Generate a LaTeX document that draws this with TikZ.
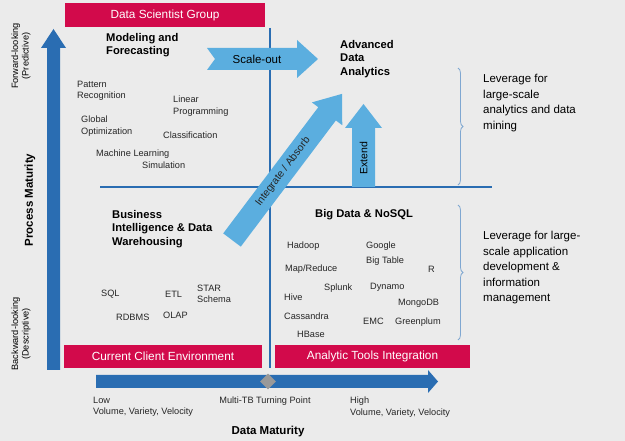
\documentclass[tikz,border=0pt]{standalone}
\usepackage{fontspec}
\setmainfont{Liberation Sans}
\usetikzlibrary{decorations.pathreplacing}
\definecolor{bg}{HTML}{EBEBEB}
\definecolor{rd}{HTML}{D20A4B}
\definecolor{db}{HTML}{2A6DB2}
\definecolor{lb}{HTML}{5BAEDF}
\begin{document}
\begin{tikzpicture}[x=1pt,y=-1pt,
 redbox/.style={fill=rd,text=white,font=\fontsize{11.8}{12}\selectfont,inner sep=0},
 itm/.style={font=\fontsize{9.2}{11.3}\selectfont,align=left,anchor=north west,inner sep=0,text=black!85},
 hdr/.style={font=\bfseries\fontsize{11.2}{13.5}\selectfont,align=left,anchor=north west,inner sep=0},
 side/.style={font=\fontsize{9.2}{10.5}\selectfont,align=center,rotate=90,inner sep=0},
 rtxt/.style={font=\fontsize{11.5}{15.5}\selectfont,align=left,anchor=north west,inner sep=0}]
\fill[bg] (0,0) rectangle (625,441);
\useasboundingbox (0,0) rectangle (625,441);
% grid lines
\draw[db,line width=1.2] (270,28) -- (270,368);
\draw[db,line width=1.2] (100,187) -- (492,187);
% red boxes
\node[redbox,minimum width=200,minimum height=24] (dsg) at (165,15) {Data Scientist Group};
\node[redbox,minimum width=198,minimum height=23] (cce) at (163,356.5) {Current Client Environment};
\node[redbox,minimum width=195,minimum height=23] (ati) at (372.5,356.5) {Analytic Tools Integration};
% vertical arrow
\fill[db] (47,370) -- (47,48) -- (41,48) -- (53.5,29) -- (66,48) -- (60,48) -- (60,370) -- cycle;
% bottom arrow
\fill[db] (96,375) -- (428,375) -- (428,370) -- (438,381.5) -- (428,393) -- (428,388) -- (96,388) -- cycle;
\node[fill=gray!80,minimum size=11,inner sep=0,rotate=45] (dia) at (268,381.5) {};
% side labels
\node[side] (fwd) at (21,56) {Forward-looking\\(Predictive)};
\node[side,font=\bfseries\fontsize{11.5}{12}\selectfont] (pm) at (30,200) {Process Maturity};
\node[side] (bwd) at (21,334) {Backward-looking\\(Descriptive)};
% bottom labels
\node[itm] (low) at (93,397) {Low\\Volume, Variety, Velocity};
\node[itm,anchor=north] (mtb) at (265,397) {Multi-TB Turning Point};
\node[itm] (high) at (350,397) {High\\Volume, Variety, Velocity};
\node[font=\bfseries\fontsize{11.5}{12}\selectfont] (dm) at (268,432) {Data Maturity};
% light arrows
\fill[lb] (207,48) -- (297,48) -- (297,40) -- (318,59) -- (297,78) -- (297,70) -- (207,70) -- (215,59) -- cycle;
\node[font=\fontsize{11.5}{12}\selectfont] (so) at (257,59) {Scale-out};
\begin{scope}[shift={(232,240)},rotate=53]
\fill[lb] (0,-11) -- (158,-11) -- (158,-19) -- (183,0) -- (158,19) -- (158,11) -- (0,11) -- cycle;
\end{scope}
\node[font=\fontsize{10.5}{12}\selectfont,text=black!85,rotate=53] (ia) at (283,172) {Integrate / Absorb};
\fill[lb] (352,187) -- (352,128) -- (345,128) -- (363.5,104) -- (382,128) -- (375,128) -- (375,187) -- cycle;
\node[rotate=90,font=\fontsize{10.5}{12}\selectfont] (ext) at (363.5,158) {Extend};
% headers
\node[hdr] (mf) at (106,33) {Modeling and\\Forecasting};
\node[hdr] (ada) at (340,40) {Advanced\\Data\\Analytics};
\node[hdr] (bi) at (112,210) {Business\\Intelligence \& Data\\Warehousing};
\node[hdr] (bd) at (315,209) {Big Data \& NoSQL};
% top-left items
\node[itm] at (77,81) {Pattern\\Recognition};
\node[itm] at (81,116) {Global\\Optimization};
\node[itm] at (173,96) {Linear\\Programming};
\node[itm] at (163,132) {Classification};
\node[itm] at (96,150) {Machine Learning};
\node[itm] at (142,162) {Simulation};
% bottom-left items
\node[itm] at (101,290) {SQL};
\node[itm] at (165,291) {ETL};
\node[itm] at (197,285) {STAR\\Schema};
\node[itm] at (116,314) {RDBMS};
\node[itm] at (163,312) {OLAP};
% bottom-right items
\node[itm] at (287,242) {Hadoop};
\node[itm] at (366,242) {Google};
\node[itm] at (366,257) {Big Table};
\node[itm] at (285,265) {Map/Reduce};
\node[itm] at (428,266) {R};
\node[itm] at (324,284) {Splunk};
\node[itm] at (370,283) {Dynamo};
\node[itm] at (284,294) {Hive};
\node[itm] at (398,299) {MongoDB};
\node[itm] at (284,313) {Cassandra};
\node[itm] at (363,318) {EMC};
\node[itm] at (395,318) {Greenplum};
\node[itm] at (297,331) {HBase};
% braces
\draw[db!60,line width=0.8,decorate,decoration={brace,amplitude=5}] (458,68) -- (458,185);
\draw[db!60,line width=0.8,decorate,decoration={brace,amplitude=5}] (458,205) -- (458,340);
\node[rtxt] (r1) at (483,74) {Leverage for\\large-scale\\analytics and data\\mining};
\node[rtxt] (r2) at (483,231) {Leverage for large-\\scale application\\development \&\\information\\management};
\end{tikzpicture}
\end{document}
